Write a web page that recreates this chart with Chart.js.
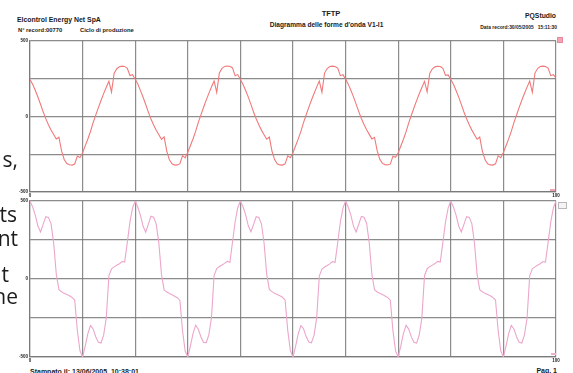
<!DOCTYPE html>
<html><head><meta charset="utf-8">
<script src="https://cdn.jsdelivr.net/npm/chart.js@4/dist/chart.umd.min.js"></script>
<style>
html,body{margin:0;padding:0;background:#fff;width:573px;height:373px;overflow:hidden;position:relative;font-family:"Liberation Sans",Arial,sans-serif;}
.t{position:absolute;white-space:nowrap;line-height:1;color:#1a1a1a;font-weight:bold;}
.r{text-align:right;}
.ov{position:absolute;white-space:nowrap;line-height:1;color:#1c1c1c;font-family:"Open Sans";font-size:21px;text-align:right;}
#c1w{position:absolute;left:0;top:36px;width:573px;height:166px;}
#c2w{position:absolute;left:0;top:195px;width:573px;height:173px;}
.mk{position:absolute;box-sizing:border-box;}
</style></head>
<body>
<div class="t" style="left:17px;top:17.3px;font-size:6.9px;">Elcontrol Energy Net SpA</div>
<div class="t" style="left:18px;top:28.2px;font-size:5.8px;">N° record:00770</div>
<div class="t" style="left:80px;top:28.2px;font-size:5.8px;">Ciclo di produzione</div>
<div class="t" style="left:0;width:662px;text-align:center;top:10.2px;font-size:7.5px;">TFTP</div>
<div class="t" style="left:0;width:653px;text-align:center;top:21.7px;font-size:6.6px;">Diagramma delle forme d'onda V1-I1</div>
<div class="t r" style="right:17px;top:12.5px;font-size:6.8px;">PQStudio</div>
<div class="t r" style="right:16px;top:26px;font-size:4.9px;">Data record:30/05/2005&nbsp;&nbsp;&nbsp;15:11:30</div>
<div class="t" style="left:30px;top:367.5px;font-size:7px;">Stampato il: 13/06/2005, 10:38:01</div>
<div class="t r" style="right:16px;top:366.5px;font-size:7px;">Pag. 1</div>

<div id="c1w"><canvas id="c1" width="573" height="166"></canvas></div>
<div id="c2w"><canvas id="c2" width="573" height="173"></canvas></div>

<div class="mk" style="left:557px;top:37px;width:6px;height:6px;background:#f3a3b3;border:1px solid #e88a9c;"></div>
<div class="mk" style="left:550px;top:189px;width:5px;height:2px;background:#f2a0b0;"></div>
<div class="mk" style="left:558px;top:202px;width:9px;height:7px;background:#f4f4f4;border:1px solid #b8b8b8;"></div>
<div class="mk" style="left:551px;top:353px;width:5px;height:2px;background:#efaccb;"></div>

<div class="ov" style="right:555px;top:149px;">s,</div>
<div class="ov" style="right:556px;top:204px;">ts</div>
<div class="ov" style="right:555px;top:228px;">nt</div>
<div class="ov" style="right:564px;top:264px;">t</div>
<div class="ov" style="right:555px;top:286px;">he</div>

<script>
// sampling interval of the recorded waveforms (time axis, 0..100)
const sampleStep = 0.5;
const xTickLabels = { 0: '0', 100: '100' };
const yTickLabels = { '-500': '-500', '0': '0', '500': '500' };

// V1 (upper panel)
const v1Values = [
  243, 212, 172, 128, 80, 30, -15, -55, -90, -120, -150, -138, -228, -285, -312, -320, -322, -315, -262, -272,
  -240, -195, -150, -100, -42, 8, 58, 105, 150, 192, 232, 160, 285, 315, 328, 332, 330, 318, 270, 275,
  245, 214, 170, 126, 78, 28, -17, -57, -92, -122, -152, -136, -230, -287, -314, -322, -321, -313, -260, -274,
  -238, -193, -148, -98, -40, 10, 60, 107, 152, 194, 234, 158, 287, 317, 330, 333, 331, 320, 268, 276,
  244, 211, 171, 127, 79, 29, -16, -56, -91, -121, -151, -137, -229, -286, -313, -321, -322, -314, -261, -273,
  -239, -194, -149, -99, -41, 9, 59, 106, 151, 193, 233, 159, 286, 316, 329, 332, 330, 319, 269, 275,
  246, 213, 173, 129, 81, 31, -14, -54, -89, -119, -149, -139, -227, -284, -311, -319, -321, -316, -263, -271,
  -241, -196, -151, -101, -43, 7, 57, 104, 149, 191, 231, 161, 284, 314, 327, 331, 329, 317, 271, 274,
  244, 212, 171, 127, 79, 29, -16, -56, -91, -121, -151, -137, -229, -286, -313, -321, -322, -314, -261, -273,
  -239, -194, -149, -99, -41, 9, 59, 106, 151, 193, 233, 159, 286, 316, 329, 332, 330, 319, 269, 275,
  252
];

// I1 (lower panel)
const i1Values = [
  500, 462, 410, 340, 302, 350, 400, 395, 355, 230, 30, -68, -82, -92, -100, -108, -118, -135, -330, -460,
  -500, -430, -350, -298, -320, -370, -405, -410, -360, -250, 20, 65, 78, 88, 98, 112, 108, 235, 365, 455,
  500, 460, 408, 338, 300, 352, 402, 396, 352, 228, 28, -70, -84, -93, -101, -110, -120, -137, -332, -462,
  -500, -428, -348, -296, -322, -372, -407, -408, -358, -248, 22, 67, 80, 90, 100, 114, 106, 237, 367, 457,
  500, 463, 411, 341, 303, 349, 399, 394, 354, 231, 31, -67, -81, -91, -99, -107, -117, -134, -329, -459,
  -500, -431, -351, -299, -319, -369, -404, -409, -361, -251, 19, 64, 77, 87, 97, 111, 107, 234, 364, 454,
  500, 461, 409, 339, 301, 351, 401, 396, 356, 229, 29, -69, -83, -92, -100, -109, -119, -136, -331, -461,
  -500, -429, -349, -297, -321, -371, -406, -411, -359, -249, 21, 66, 79, 89, 99, 113, 109, 236, 366, 456,
  500, 462, 410, 340, 302, 350, 400, 395, 355, 230, 30, -68, -82, -92, -100, -108, -118, -135, -330, -460,
  -500, -430, -350, -298, -320, -370, -405, -410, -360, -250, 20, 65, 78, 88, 98, 112, 108, 235, 365, 455,
  500
];

const gridColor = 'rgba(120,120,120,0.85)';

function toPoints(arr) { return arr.map((v, i) => ({ x: i * sampleStep, y: v })); }

function makeChart(id, values, color, padTop, xAxisH) {
  return new Chart(document.getElementById(id), {
    type: 'line',
    data: { datasets: [{ data: toPoints(values), borderColor: color, borderWidth: 1.1, pointRadius: 0, tension: 0, fill: false }] },
    options: {
      responsive: false, animation: false, devicePixelRatio: 1,
      layout: { padding: { top: padTop, right: 17, left: 0, bottom: 0 } },
      plugins: { legend: { display: false }, tooltip: { enabled: false } },
      scales: {
        x: {
          type: 'linear', min: 0, max: 100,
          afterFit(s) { s.height = xAxisH; },
          grid: { color: gridColor, lineWidth: 1.2, drawTicks: false },
          border: { color: gridColor, width: 1.2 },
          ticks: {
            stepSize: 10, autoSkip: false, maxRotation: 0, padding: 1,
            font: { size: 4.5, weight: 'bold', family: 'Liberation Sans' }, color: '#222',
            callback: (v) => (xTickLabels[v] !== undefined ? xTickLabels[v] : '')
          }
        },
        y: {
          min: -500, max: 500,
          afterFit(s) { s.width = 30; },
          grid: { color: gridColor, lineWidth: 1.2, drawTicks: false },
          border: { color: gridColor, width: 1.2 },
          ticks: {
            stepSize: 250, autoSkip: false, padding: 2,
            font: { size: 4.5, weight: 'bold', family: 'Liberation Sans' }, color: '#222',
            callback: (v) => (yTickLabels[String(v)] !== undefined ? yTickLabels[String(v)] : '')
          }
        }
      }
    }
  });
}

makeChart('c1', v1Values, '#f07a7a', 4, 10);
makeChart('c2', i1Values, '#eca6cb', 6, 11);
</script>
</body></html>
